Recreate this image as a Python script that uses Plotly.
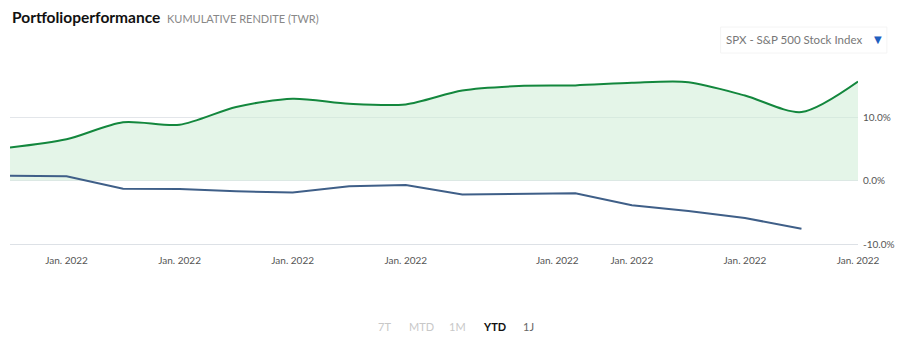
import plotly.graph_objects as go

# x positions (period index)
x_portfolio = list(range(16))
portfolio = [5.2, 6.5, 9.2, 8.8, 11.6, 12.9, 12.1, 12.0, 14.2, 14.9, 15.0, 15.4, 15.5, 13.4, 10.8, 15.6]
x_index = list(range(15))
spx = [0.74, 0.68, -1.3, -1.35, -1.7, -1.9, -0.9, -0.7, -2.2, -2.1, -2.0, -3.9, -4.8, -5.9, -7.6]

tick_pos = [1, 3, 5, 7, 9.68, 11, 13, 15]
tick_text = ["Jan. 2022"] * len(tick_pos)
y_ticks = [-10, 0, 10]
y_tick_text = ["-10.0%", "0.0%", "10.0%"]

buttons = ["7T", "MTD", "1M", "YTD", "1J"]
button_x = [386, 423, 460, 497, 531]
button_color = ["#c8c8c8", "#c8c8c8", "#c8c8c8", "#111111", "#666666"]

W, H = 905, 340
fig = go.Figure()
fig.add_trace(go.Scatter(
    x=x_portfolio, y=portfolio, mode="lines",
    line=dict(color="#13873d", width=2, shape="spline", smoothing=0.8),
    fill="tozeroy", fillcolor="rgba(206,236,214,0.55)",
    hoverinfo="skip", showlegend=False))
fig.add_trace(go.Scatter(
    x=x_index, y=spx, mode="lines",
    line=dict(color="#3f5f88", width=2),
    hoverinfo="skip", showlegend=False))

font = "Lato, 'Open Sans', sans-serif"
fig.update_layout(
    width=W, height=H,
    margin=dict(l=10, r=43, t=60, b=96),
    paper_bgcolor="white", plot_bgcolor="white",
    font=dict(family=font, color="#555"),
    xaxis=dict(range=[0, 15], tickvals=tick_pos, ticktext=tick_text,
               showgrid=False, zeroline=False, showline=True, linecolor="#dde1e6", linewidth=1,
               tickfont=dict(size=10, color="#555"), ticks="", ticklabelstandoff=7),
    yaxis=dict(range=[-10, 19], side="right", tickvals=y_ticks, ticktext=y_tick_text,
               showgrid=True, gridcolor="#e3e6ea", gridwidth=1, zeroline=False,
               tickfont=dict(size=10, color="#555"), ticks="", ticklabelstandoff=4),
)

annotations = [
    dict(x=10 / W, y=1 - 17 / H, xref="paper", yref="paper", xanchor="left", yanchor="middle",
         text="<b>Portfolioperformance</b>", showarrow=False,
         font=dict(size=15.5, color="#111", family=font)),
    dict(x=166 / W, y=1 - 18 / H, xref="paper", yref="paper", xanchor="left", yanchor="middle",
         text="KUMULATIVE RENDITE (TWR)", showarrow=False,
         font=dict(size=11, color="#888", family=font)),
    dict(x=727 / W, y=1 - 40 / H, xref="paper", yref="paper", xanchor="left", yanchor="middle",
         text="SPX - S&P 500 Stock Index", showarrow=False,
         font=dict(size=11.5, color="#777", family=font)),
    dict(x=882 / W, y=1 - 40 / H, xref="paper", yref="paper", xanchor="center", yanchor="middle",
         text="▼", showarrow=False,
         font=dict(size=10, color="#1f5fbf", family="DejaVu Sans")),
]
for b, bx, bc in zip(buttons, button_x, button_color):
    annotations.append(dict(
        x=bx / W, y=1 - 326 / H, xref="paper", yref="paper", xanchor="center", yanchor="middle",
        text=("<b>%s</b>" % b) if b == "YTD" else b, showarrow=False,
        font=dict(size=11, color=bc, family=font)))

# convert page-pixel positions to plot-area paper coordinates
pl, pr, pt, pb = 10, 43, 60, 96
pw, ph = W - pl - pr, H - pt - pb
for a in annotations:
    px = a["x"] * W
    py = (1 - a["y"]) * H
    a["x"] = (px - pl) / pw
    a["y"] = 1 - (py - pt) / ph
fig.update_layout(annotations=annotations)

fig.add_shape(type="rect", xref="paper", yref="paper",
              x0=(724 - pl) / pw, x1=(891 - pl) / pw,
              y0=1 - (53 - pt) / ph, y1=1 - (27 - pt) / ph,
              line=dict(color="#f4f4f4", width=1), fillcolor="rgba(0,0,0,0)")

fig.write_html("out.html")
